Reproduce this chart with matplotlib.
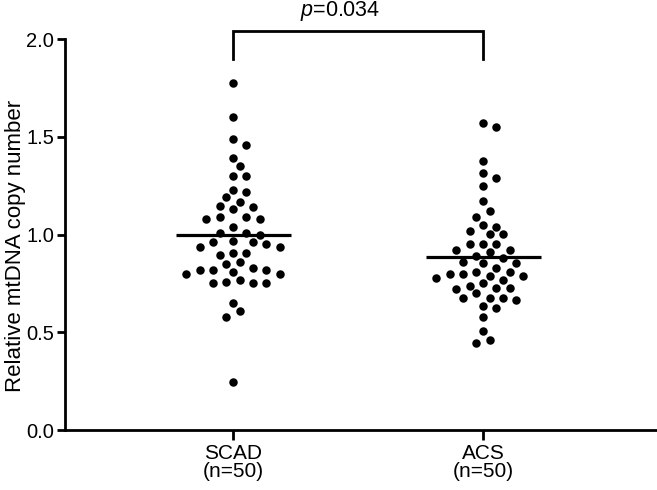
import numpy as np
import matplotlib
matplotlib.use("Agg")
import matplotlib.pyplot as plt

plt.rcParams['font.family'] = ['Liberation Sans', 'DejaVu Sans']
plt.rcParams['mathtext.fontset'] = 'custom'
plt.rcParams['mathtext.rm'] = 'Liberation Sans'
plt.rcParams['mathtext.it'] = 'Liberation Sans:italic'

categories = ["SCAD\n(n=50)", "ACS\n(n=50)"]
scad = [1.778, 1.60, 1.488, 1.459, 1.39, 1.35, 1.299, 1.299, 1.231, 1.219,
        1.192, 1.168, 1.149, 1.141, 1.129, 1.091, 1.091, 1.078, 1.078, 1.040,
        1.009, 1.009, 0.999, 0.968, 0.960, 0.960, 0.951, 0.938, 0.938, 0.904,
        0.904, 0.895, 0.858, 0.851, 0.827, 0.818, 0.818, 0.818, 0.81, 0.80,
        0.80, 0.767, 0.759, 0.750, 0.750, 0.750, 0.648, 0.609, 0.576, 0.247]
acs = [1.569, 1.551, 1.378, 1.318, 1.289, 1.248, 1.170, 1.119, 1.088, 1.049,
       1.040, 1.018, 1.001, 1.001, 0.950, 0.950, 0.950, 0.921, 0.921, 0.909,
       0.892, 0.878, 0.853, 0.830, 0.853, 0.861, 0.80, 0.789, 0.81, 0.776,
       0.81, 0.788, 0.80, 0.750, 0.767, 0.738, 0.720, 0.725, 0.728, 0.699,
       0.677, 0.668, 0.677, 0.677, 0.626, 0.636, 0.576, 0.508, 0.447, 0.459]
groups = [scad, acs]
yticks = [0.0, 0.5, 1.0, 1.5, 2.0]
ylabel = "Relative mtDNA copy number"
p_text = r"$\it{p}$=0.034"

DPI = 100
W, H = 657, 490
fig = plt.figure(figsize=(W / DPI, H / DPI), dpi=DPI)
ax = fig.add_axes([65 / W, 1 - 430 / H, (W - 65) / W, 390.7 / H])
ax.set_xlim(-0.672, 1.696)
ax.set_ylim(0, 2.0)

# swarm layout in pixel space
trans = ax.transData
step_px = 6.67
coll_px = 10.0


def swarm(xc, vals):
    order = np.argsort(vals)[::-1]
    placed = []
    xs = np.zeros(len(vals))
    for i in order:
        px, py = trans.transform((xc, vals[i]))
        cands = sorted(range(-14, 15), key=lambda k: (abs(k), -k))
        for k in cands:
            cx = px + k * step_px
            ok = all((cx - qx) ** 2 + (py - qy) ** 2 >= coll_px ** 2 for qx, qy in placed)
            if ok:
                placed.append((cx, py))
                xs[i] = trans.inverted().transform((cx, py))[0]
                break
    return xs


for gi, vals in enumerate(groups):
    vals = np.array(vals)
    xs = swarm(gi, vals)
    ax.plot(xs, vals, 'o', color='black', markersize=6.1, markeredgewidth=0, clip_on=False, zorder=3)
    m = vals.mean()
    ax.plot([gi - 0.23, gi + 0.23], [m, m], color='black', lw=2.3, solid_capstyle='butt', zorder=4)

# bracket
ax.plot([0, 0, 1, 1], [1.90, 2.045, 2.045, 1.90], color='black', lw=2.0, clip_on=False,
        solid_joinstyle='miter')
ax.text(0.43, 2.085, p_text, ha='center', va='bottom', fontsize=15.5)

ax.set_xticks([0, 1])
ax.set_xticklabels(categories, fontsize=15, linespacing=0.95)
ax.set_yticks(yticks)
ax.set_yticklabels([f"{t:.1f}" for t in yticks], fontsize=14.5)
ax.set_ylabel(ylabel, fontsize=16)
ax.yaxis.set_label_coords((26 - 65) / (W - 65), 0.47)

for s in ['top', 'right']:
    ax.spines[s].set_visible(False)
for s in ['left', 'bottom']:
    ax.spines[s].set_linewidth(2.0)
ax.tick_params(axis='both', width=2.0, direction='out', colors='black')
ax.tick_params(axis='y', length=6, pad=2)
ax.tick_params(axis='x', length=7, pad=3)

fig.savefig("out.png", dpi=DPI)
